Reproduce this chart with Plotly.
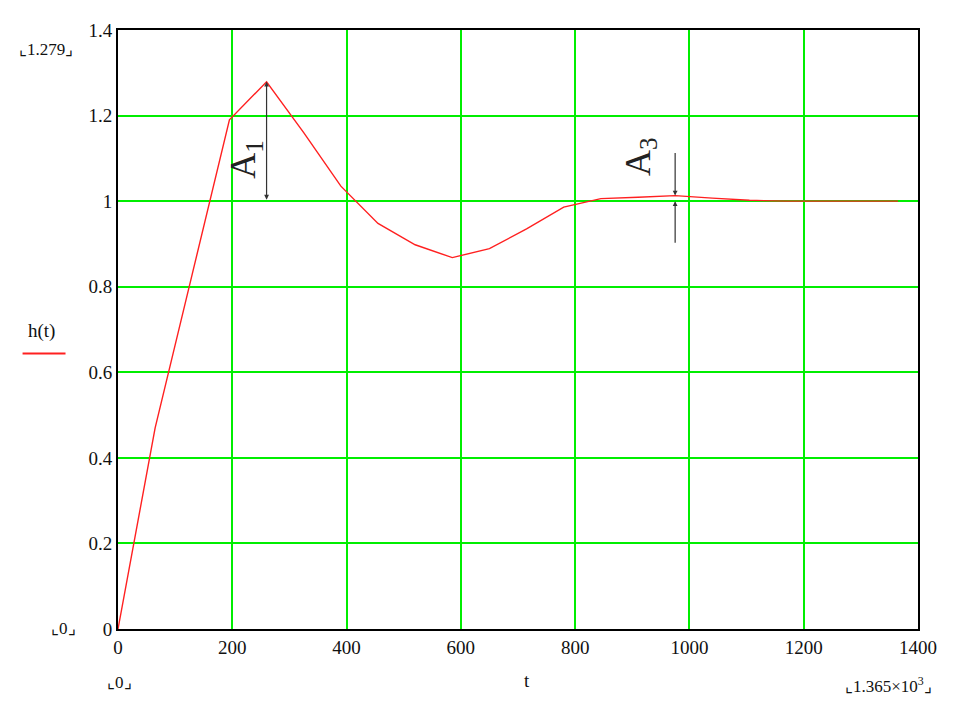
import plotly.graph_objects as go

# ---- data ----
t = [0, 65, 130, 195, 260, 325, 390, 455, 520, 585, 650, 715, 780, 845,
     910, 975, 1040, 1105, 1170, 1235, 1300, 1365]
h = [0, 0.47, 0.83, 1.19, 1.279, 1.16, 1.035, 0.948, 0.898, 0.868, 0.889,
     0.935, 0.986, 1.006, 1.009, 1.013, 1.007, 1.002, 1.0, 1.0, 1.0, 1.0]
x_ticks = [0, 200, 400, 600, 800, 1000, 1200, 1400]
x_ticktext = ["0", "200", "400", "600", "800", "1000", "1200", "1400"]
y_ticks = [0, 0.2, 0.4, 0.6, 0.8, 1.0, 1.2, 1.4]
y_ticktext = ["0", "0.2", "0.4", "0.6", "0.8", "1", "1.2", "1.4"]
steady = 1.0

FONT = "Liberation Serif, Times New Roman, serif"

fig = go.Figure()
fig.add_trace(go.Scatter(x=t, y=h, mode="lines",
                         line=dict(color="#ff2020", width=1.4),
                         showlegend=False, hoverinfo="skip"))

# peak values from data
i1 = h.index(max(h))
t1, h1 = t[i1], h[i1]
imin = h.index(min(h[i1:]))
i3 = max(range(imin, len(h)), key=lambda i: h[i])
t3, h3 = t[i3], h[i3]

ann = []
arrow_col = "#333333"
ann.append(dict(x=t1, y=h1, ax=t1, ay=steady, xref="x", yref="y",
                axref="x", ayref="y", text="", showarrow=True,
                arrowhead=2, startarrowhead=2, arrowside="end+start",
                arrowsize=0.8, startarrowsize=0.8, arrowwidth=1.2,
                arrowcolor=arrow_col))
ann.append(dict(x=t3, y=h3, ax=t3, ay=1.116, xref="x", yref="y",
                axref="x", ayref="y", text="", showarrow=True,
                arrowhead=2, arrowsize=0.8, arrowwidth=1.2,
                arrowcolor=arrow_col))
ann.append(dict(x=t3, y=steady, ax=t3, ay=0.899, xref="x", yref="y",
                axref="x", ayref="y", text="", showarrow=True,
                arrowhead=2, arrowsize=0.8, arrowwidth=1.2,
                arrowcolor=arrow_col))
ann.append(dict(x=223, y=1.098, xref="x", yref="y", text="A<sub>1</sub>",
                textangle=-90, showarrow=False, xanchor="center",
                yanchor="middle",
                font=dict(family=FONT, size=36, color="#222222")))
ann.append(dict(x=914, y=1.104, xref="x", yref="y", text="A<sub>3</sub>",
                textangle=-90, showarrow=False, xanchor="center",
                yanchor="middle",
                font=dict(family=FONT, size=36, color="#222222")))

small = dict(family=FONT, size=17, color="#111111")


def lab(x, y, text, font=small):
    ann.append(dict(x=x, y=y, xref="paper", yref="paper", text=text,
                    showarrow=False, xanchor="center", yanchor="middle",
                    font=font))


lab(-0.0894, 0.967, "⌞1.279⌟")
lab(-0.068, 0.0005, "⌞0⌟")
lab(0.0019, -0.0888, "⌞0⌟")
lab(0.963, -0.0935, "⌞1.365×10<sup>3</sup>⌟")
lab(0.5118, -0.0853, "t", dict(family=FONT, size=19, color="#111111"))
lab(-0.0956, 0.498, "h(t)", dict(family=FONT, size=19, color="#111111"))

shapes = [dict(type="line", xref="paper", yref="paper",
               x0=-0.1193, x1=-0.0656, y0=0.46, y1=0.46,
               line=dict(color="#ff2020", width=2))]

axis_common = dict(showgrid=True, gridcolor="#00ee00", gridwidth=2,
                   zeroline=False, showline=True, linecolor="black",
                   linewidth=2, mirror=True, ticks="",
                   tickfont=dict(family=FONT, size=19, color="#111111"))

fig.update_layout(
    width=947, height=701,
    margin=dict(l=110, r=37, t=16, b=80),
    paper_bgcolor="white", plot_bgcolor="white",
    xaxis=dict(range=[0, 1400], tickvals=x_ticks, ticktext=x_ticktext,
               **axis_common),
    yaxis=dict(range=[0, 1.4], tickvals=y_ticks, ticktext=y_ticktext,
               **axis_common),
    annotations=ann, shapes=shapes,
)

fig.write_html("out.html")
